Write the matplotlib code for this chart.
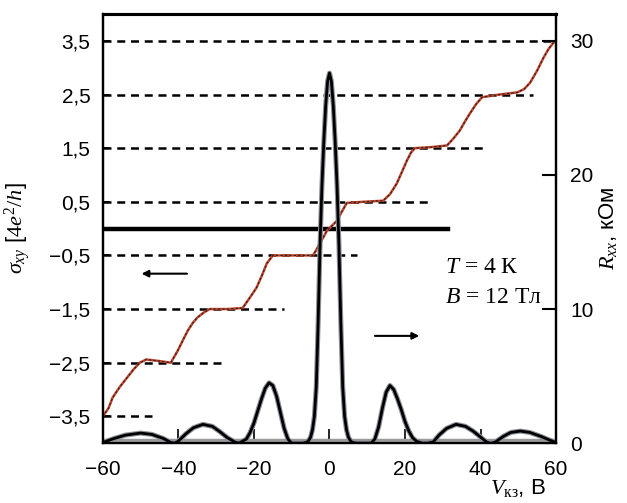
import numpy as np
import matplotlib.pyplot as plt

plt.rcParams['font.family'] = ['Liberation Sans', 'DejaVu Sans']
plt.rcParams['mathtext.fontset'] = 'custom'
plt.rcParams['mathtext.rm'] = 'Liberation Serif'
plt.rcParams['mathtext.it'] = 'Liberation Serif:italic'

# sigma_xy step curve (gate voltage, 4e^2/h)
vg_sigma = [-60, -58.5, -57.4, -55.5, -53.6, -51.8, -50.2, -48.5, -45, -42, -40.2, -38.8,
            -37.5, -36.2, -35, -33.2, -31.7, -27, -23, -21.2, -19.3, -17.8, -16.6, -15,
            -10, -4.4, -3.5, -2.6, -1.6, -0.7, 0.6, 2, 3.3, 4.6, 9, 14.2, 16, 17.8, 19.2,
            20.5, 21.6, 22.6, 27, 31.1, 32.8, 34.5, 35.8, 37.2, 38.8, 40.4, 45, 49.7,
            51.5, 53.1, 55, 56.6, 58, 59.2, 60]
sigma = [-3.5, -3.35, -3.15, -2.95, -2.78, -2.62, -2.5, -2.44, -2.47, -2.5, -2.28, -2.08,
         -1.9, -1.76, -1.66, -1.56, -1.5, -1.5, -1.48, -1.3, -1.1, -0.86, -0.65, -0.5,
         -0.5, -0.5, -0.4, -0.28, -0.16, -0.04, 0.05, 0.15, 0.32, 0.48, 0.5, 0.52, 0.64,
         0.84, 1.06, 1.27, 1.42, 1.5, 1.52, 1.55, 1.68, 1.83, 1.99, 2.15, 2.32, 2.45,
         2.5, 2.54, 2.6, 2.72, 2.95, 3.18, 3.35, 3.46, 3.5]

# R_xx (gate voltage, kOhm)
vg_r = [-60, -57, -54, -50, -47, -44, -42, -41, -40, -38, -36, -33.5, -31, -29, -27, -25,
        -24, -22, -21, -20, -19, -18, -17, -16, -15, -14, -13, -12, -11, -10, -7, -6,
        -5.5, -5, -4.5, -4, -3.5, -3, -2.5, -2, -1.5, -1, -0.5, 0, 0.5, 1, 1.5, 2, 2.5,
        3, 3.5, 4, 4.5, 5, 5.5, 6, 7, 11, 12, 13, 14, 15, 16, 17, 18, 19, 20, 21, 22,
        23, 24.5, 26, 27.5, 29, 31, 33.5, 36, 38, 40, 41.5, 42.5, 43, 44, 46, 48, 50.5,
        53, 56, 58.5, 60]
r_xx = [0.05, 0.35, 0.6, 0.75, 0.65, 0.35, 0.05, 0, 0.15, 0.7, 1.15, 1.4, 1.25, 0.85,
        0.4, 0.08, 0, 0.3, 0.8, 1.5, 2.4, 3.3, 4.1, 4.5, 4.3, 3.5, 2.3, 1.1, 0.3, 0, 0,
        0.07, 0.2, 0.45, 1.0, 2.0, 4.2, 9.0, 14.8, 19.2, 22.5, 25.2, 27.0, 27.6, 27.0,
        25.2, 22.5, 19.2, 14.8, 9.0, 4.2, 2.0, 1.0, 0.45, 0.2, 0.07, 0, 0, 0.3, 1.2, 2.6,
        3.8, 4.3, 4.0, 3.3, 2.5, 1.6, 0.9, 0.4, 0.15, 0, 0, 0.1, 0.6, 1.1, 1.4, 1.25,
        0.9, 0.45, 0.1, 0, 0, 0.1, 0.5, 0.8, 0.9, 0.8, 0.5, 0.2, 0.05]

# quantised levels and where each dashed guide ends
levels = [-3.5, -2.5, -1.5, -0.5, 0.5, 1.5, 2.5, 3.5]
level_ends = [-47, -28.5, -12, 7.3, 26, 42, 54, 60]
level_labels = ['\u22123,5', '\u22122,5', '\u22121,5', '\u22120,5', '0,5', '1,5', '2,5', '3,5']
x_ticks = [-60, -40, -20, 0, 20, 40, 60]
x_labels = ['\u221260', '\u221240', '\u221220', '0', '20', '40', '60']
r_ticks = [0, 10, 20, 30]

fig = plt.figure(figsize=(6.27, 5.03), dpi=100)
ax = fig.add_axes([0.164, 0.119, 0.723, 0.853])
ax2 = ax.twinx()

for lev, end in zip(levels, level_ends):
    ax.plot([-60, end], [lev, lev], color='black', lw=1.8, ls=(0, (3.2, 2.3)))
ax.plot([-60, 31.4], [0, 0], color='black', lw=3.2)

ax.plot(vg_sigma, sigma, color='#c0432a', lw=1.8)
ax.plot(vg_sigma, sigma, color='#222222', lw=0.8, ls=(0, (2, 2)))

ax2.axhline(0.25, color='#9a9a9a', lw=2.5)
ax2.plot(vg_r, r_xx, color='#8a8f99', lw=3.6)
ax2.plot(vg_r, r_xx, color='black', lw=2.0)

ax.annotate('', xy=(-50.5, -0.84), xytext=(-37, -0.84),
            arrowprops=dict(arrowstyle='-|>', color='black', lw=1.5, mutation_scale=10))
ax.annotate('', xy=(24.5, -2.0), xytext=(11.3, -2.0),
            arrowprops=dict(arrowstyle='-|>', color='black', lw=1.5, mutation_scale=10))

ax.text(30.6, -0.82, '$T$ = 4 К', fontsize=17, family='Liberation Serif')
ax.text(30.6, -1.38, '$B$ = 12 Тл', fontsize=17, family='Liberation Serif')

ax.set_xlim(-60, 60)
ax.set_ylim(-4, 4)
ax2.set_ylim(0, 32)

ax.set_xticks(x_ticks)
ax.set_xticklabels(x_labels)
ax.set_yticks(levels)
ax.set_yticklabels(level_labels)
ax2.set_yticks(r_ticks)

ax.tick_params(axis='x', direction='in', length=10, width=1.2, pad=12, labelsize=15)
ax.tick_params(axis='y', direction='in', length=5, width=1.2, pad=9, labelsize=15)
ax2.tick_params(axis='y', direction='in', length=10, width=1.5, pad=10, labelsize=15)

for a in (ax, ax2):
    for s in a.spines.values():
        s.set_linewidth(1.6)
    a.spines['top'].set_linewidth(2.2)

ax.set_ylabel(r'$\sigma_{xy}$ [$4e^2/h$]', fontsize=16)
ax.yaxis.set_label_coords(-0.155, 0.5)
ax2.set_ylabel('$R_{xx}$, кОм', fontsize=16)
ax2.yaxis.set_label_coords(1.09, 0.5)
ax.set_xlabel('$V_{\\mathrm{кз}}$, В', fontsize=16)
ax.xaxis.set_label_coords(0.915, -0.08)

fig.savefig('out.png', dpi=100)
